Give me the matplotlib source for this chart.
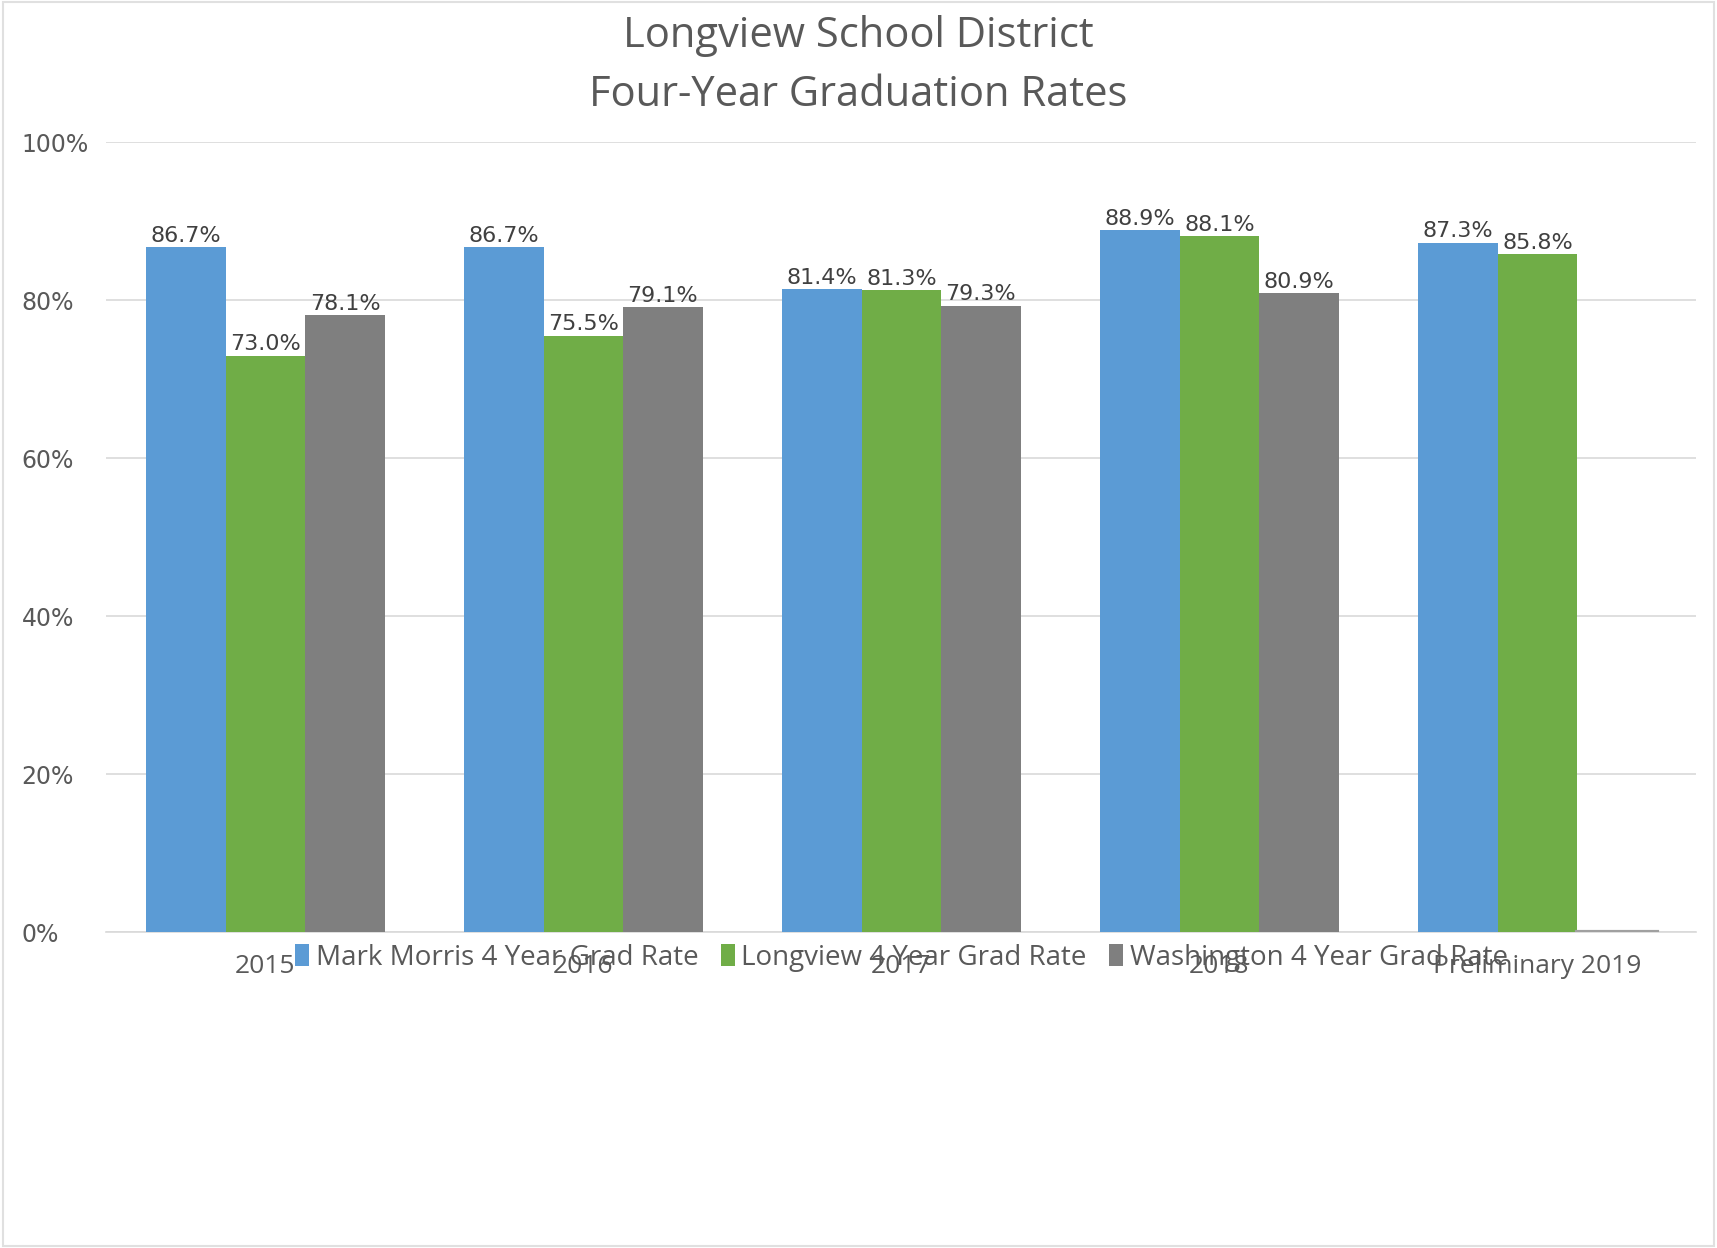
import matplotlib
matplotlib.use("Agg")
import matplotlib.pyplot as plt
from matplotlib.patches import Rectangle
import numpy as np

# Data
years = ["2015", "2016", "2017", "2018", "Preliminary 2019"]
mark_morris = [86.7, 86.7, 81.4, 88.9, 87.3]
longview = [73.0, 75.5, 81.3, 88.1, 85.8]
washington = [78.1, 79.1, 79.3, 80.9, 0.0]
series_names = ["Mark Morris 4 Year Grad Rate", "Longview 4 Year Grad Rate",
                "Washington 4 Year Grad Rate"]
colors = ["#5B9BD5", "#70AD47", "#7F7F7F"]

fig = plt.figure(figsize=(17.17, 12.48), dpi=100)
ax = fig.add_axes([0.062, 0.253, 0.926, 0.633])

x = np.arange(len(years))
w = 0.25
all_series = [mark_morris, longview, washington]
for i, (vals, name, col) in enumerate(zip(all_series, series_names, colors)):
    bars = ax.bar(x + (i - 1) * w, vals, w, color=col, label=name, zorder=3)
    labels = ["" if v == 0 else f"{v:.1f}%" for v in vals]
    ax.bar_label(bars, labels=labels, padding=1, fontsize=16, color="#404040",
                 family="DejaVu Sans")
    # missing value drawn as a flat line
    for xi, v in zip(x, vals):
        if v == 0:
            ax.plot([xi + (i - 1) * w - w / 2, xi + (i - 1) * w + w / 2], [0, 0],
                    color="#A0A0A0", lw=3, zorder=4)

ax.set_xlim(-0.5, 4.5)
ax.set_ylim(0, 100)
ax.set_yticks([0, 20, 40, 60, 80, 100])
ax.set_yticklabels([f"{t}%" for t in [0, 20, 40, 60, 80, 100]])
ax.yaxis.grid(True, color="#D9D9D9", lw=1.2, zorder=0)
ax.tick_params(axis="y", length=0, pad=61, labelsize=17, labelcolor="#595959")
for lab in ax.get_yticklabels():
    lab.set_horizontalalignment("left")
ax.set_xticks(x)
ax.set_xticklabels(years)
ax.tick_params(axis="x", length=0, pad=16, labelsize=19, labelcolor="#595959")
for lab in ax.get_xticklabels():
    lab.set_family("Open Sans")

for s in ["top", "right", "left"]:
    ax.spines[s].set_visible(False)
ax.spines["bottom"].set_color("#D9D9D9")
ax.spines["bottom"].set_linewidth(1.2)

ax.legend(loc="center", bbox_to_anchor=(0.5, -0.032), ncol=3, frameon=False,
          prop={"family": "Open Sans", "size": 20}, labelcolor="#595959",
          handlelength=0.5, handleheight=0.8, handletextpad=0.25, columnspacing=0.8)

fig.text(0.5, 0.971, "Longview School District", ha="center", va="center",
         fontsize=30, color="#595959", family="Open Sans")
fig.text(0.5, 0.924, "Four-Year Graduation Rates", ha="center", va="center",
         fontsize=30, color="#595959", family="Open Sans")

fig.patches.append(Rectangle((0.002, 0.002), 0.996, 0.996, transform=fig.transFigure,
                             fill=False, edgecolor="#E0E0E0", lw=1.5))

fig.savefig("out.png", dpi=100)
